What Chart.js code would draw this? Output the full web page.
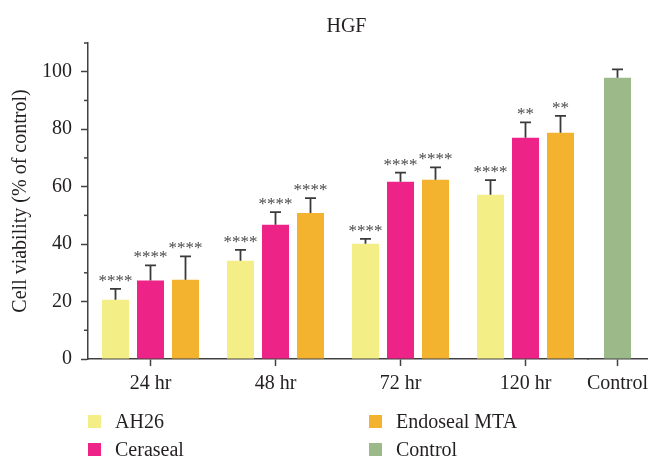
<!DOCTYPE html>
<html>
<head>
<meta charset="utf-8">
<script src="https://cdn.jsdelivr.net/npm/chart.js@4"></script>
<style>
  body { margin: 0; background: #fff; }
  #wrap { position: relative; width: 652px; height: 457px; font-family: "Liberation Serif", serif; color: #231f20; }
  #title { position: absolute; left: 246px; width: 201px; top: 13px; text-align: center; font-size: 20px; line-height: 24px; }
  #legend { position: absolute; left: 88px; top: 409px; display: grid; grid-template-columns: 281px 200px; row-gap: 4px; }
  .item { display: flex; align-items: center; height: 24px; font-size: 20px; line-height: 24px; }
  .box { width: 13px; height: 13px; margin-right: 14px; }
</style>
</head>
<body>
<div id="wrap">
  <canvas id="chart" width="652" height="457"></canvas>
  <div id="title">HGF</div>
  <div id="legend"></div>
</div>
<script>
const timeLabels = ["24 hr", "48 hr", "72 hr", "120 hr"];
const controlLabels = ["Control"];

const ah26 = [20.6, 34.2, 40.1, 57.2];
const ah26Err = [3.8, 3.8, 1.7, 5.1];
const ah26Stars = ["****", "****", "****", "****"];

const ceraseal = [27.3, 46.7, 61.7, 77.0];
const cerasealErr = [5.3, 4.4, 3.2, 5.4];
const cerasealStars = ["****", "****", "****", "**"];

const endoseal = [27.6, 50.8, 62.4, 78.8];
const endosealErr = [8.1, 5.2, 4.3, 5.8];
const endosealStars = ["****", "****", "****", "**"];

const control = [97.9];
const controlErr = [2.9];

const yTicks = { min: 0, max: 110, step: 10 };

// legend order as in the figure: two columns
const legendOrder = ["AH26", "Endoseal MTA", "Ceraseal", "Control"];

const axisColor = "#404040";
const font = { family: "'Liberation Serif', serif", size: 20 };

const errorBars = {
  id: "errorBars",
  afterDatasetsDraw(chart) {
    const ctx = chart.ctx;
    const y = chart.scales.y;
    chart.data.datasets.forEach((ds, di) => {
      const meta = chart.getDatasetMeta(di);
      meta.data.forEach((bar, i) => {
        if (ds.data[i] == null) return;
        const top = y.getPixelForValue(ds.data[i] + ds.errors[i]);
        ctx.save();
        ctx.strokeStyle = "#3a3a3a";
        ctx.lineWidth = 1.8;
        ctx.beginPath();
        ctx.moveTo(bar.x, bar.y);
        ctx.lineTo(bar.x, top);
        ctx.moveTo(bar.x - 5.5, top);
        ctx.lineTo(bar.x + 5.5, top);
        ctx.stroke();
        if (ds.stars) {
          ctx.fillStyle = "#4a4a4a";
          ctx.font = "17px 'Liberation Serif', serif";
          ctx.textAlign = "center";
          ctx.textBaseline = "alphabetic";
          ctx.fillText(ds.stars[i], bar.x, top - 3);
        }
        ctx.restore();
      });
    });
  }
};

// short ticks for the unlabelled steps
const minorTicks = {
  id: "minorTicks",
  afterDraw(chart) {
    const ctx = chart.ctx;
    const y = chart.scales.y;
    ctx.save();
    ctx.strokeStyle = axisColor;
    ctx.lineWidth = 1.5;
    y.ticks.forEach(t => {
      if (t.value % 20 === 0) return;
      const py = y.getPixelForValue(t.value);
      ctx.beginPath();
      ctx.moveTo(y.right - 4, py);
      ctx.lineTo(y.right, py);
      ctx.stroke();
    });
    ctx.restore();
  }
};

function noPadX(scale) {
  scale.height = 40;
  scale.paddingLeft = 0;
  scale.paddingRight = 0;
}

const xCommon = {
  type: "category",
  position: "bottom",
  stack: "bottom",
  offset: true,
  grid: { drawOnChartArea: false, offset: false, tickLength: 7, tickColor: axisColor, tickWidth: 1.5 },
  border: { color: axisColor, width: 1.5 },
  ticks: { color: "#231f20", font: font, padding: 6, autoSkip: false, maxRotation: 0 },
  afterFit: noPadX
};

const chart = new Chart(document.getElementById("chart"), {
  type: "bar",
  data: {
    datasets: [
      {
        label: "AH26", data: ah26, errors: ah26Err, stars: ah26Stars,
        backgroundColor: "#f3ee86", xAxisID: "x", indexAxis: "x",
        categoryPercentage: 0.84, barPercentage: 0.7714
      },
      {
        label: "Ceraseal", data: ceraseal, errors: cerasealErr, stars: cerasealStars,
        backgroundColor: "#ee2387", xAxisID: "x", indexAxis: "x",
        categoryPercentage: 0.84, barPercentage: 0.7714
      },
      {
        label: "Endoseal MTA", data: endoseal, errors: endosealErr, stars: endosealStars,
        backgroundColor: "#f4b32f", xAxisID: "x", indexAxis: "x",
        categoryPercentage: 0.84, barPercentage: 0.7714
      },
      {
        label: "Control", data: control, errors: controlErr,
        backgroundColor: "#9cb98a", xAxisID: "x2", indexAxis: "x",
        grouped: false, maxBarThickness: 27
      }
    ]
  },
  options: {
    // bars are vertical per dataset; chart-level "y" stops Chart.js 4.5 from
    // splitting the groups between the two bottom axes
    indexAxis: "y",
    responsive: false,
    animation: false,
    layout: { padding: { top: 43, right: 5, bottom: 58, left: 0 } },
    plugins: {
      legend: { display: false },
      title: { display: false },
      tooltip: { enabled: false }
    },
    scales: {
      x: Object.assign({}, xCommon, { labels: timeLabels, stackWeight: 500 }),
      x2: Object.assign({}, xCommon, { labels: controlLabels, stackWeight: 59 }),
      y: {
        type: "linear",
        position: "left",
        offset: false,
        min: yTicks.min,
        max: yTicks.max,
        grid: {
          drawOnChartArea: false,
          offset: false,
          tickLength: 7,
          tickWidth: 1.5,
          tickColor: c => (c.tick && c.tick.value % 20 === 0 ? axisColor : "rgba(0,0,0,0)")
        },
        border: { color: axisColor, width: 1.5 },
        ticks: {
          stepSize: yTicks.step,
          autoSkip: false,
          color: "#231f20",
          font: font,
          padding: 9,
          callback: v => (v % 20 === 0 ? v : "")
        },
        title: {
          display: true,
          text: "Cell viability (% of control)",
          color: "#231f20",
          font: font,
          padding: { top: 9, bottom: 0 }
        },
        afterFit(scale) {
          scale.width = 88;
          scale.paddingTop = 0;
          scale.paddingBottom = 0;
        }
      }
    }
  },
  plugins: [errorBars, minorTicks]
});

// legend built from the datasets
const legendDiv = document.getElementById("legend");
legendOrder.forEach(name => {
  const ds = chart.data.datasets.find(d => d.label === name);
  const item = document.createElement("div");
  item.className = "item";
  item.innerHTML = `<span class="box" style="background:${ds.backgroundColor}"></span><span>${ds.label}</span>`;
  legendDiv.appendChild(item);
});
</script>
</body>
</html>
